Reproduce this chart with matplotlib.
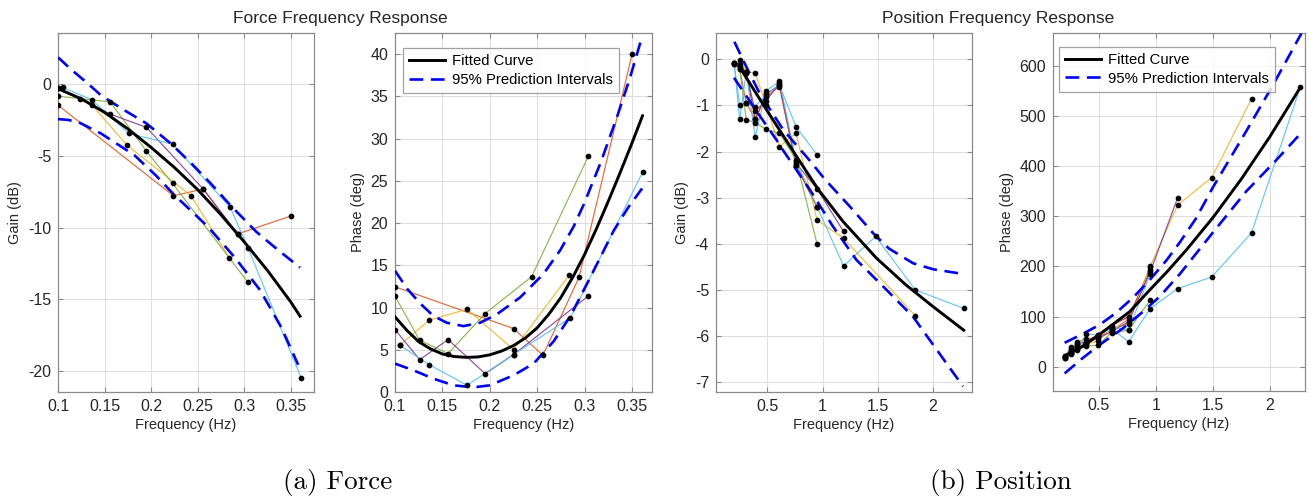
import matplotlib
matplotlib.use('Agg')
import matplotlib.pyplot as plt
from matplotlib.lines import Line2D

plt.rcParams['font.family'] = ['Liberation Sans', 'DejaVu Sans']
plt.rcParams['axes.unicode_minus'] = False

# ---------------- colours (MATLAB default order) ----------------
C_ORANGE = '#D95319'
C_YELLOW = '#EDB120'
C_PURPLE = '#7E2F8E'
C_GREEN = '#77AC30'
C_LBLUE = '#4DBEEE'
C_RED = '#A2142F'

# ---------------- Force gain (dB) ----------------
FG_ORANGE = [(0.1, -1.45), (0.224, -7.78), (0.256, -7.31), (0.293, -10.45), (0.35, -9.2)]
FG_YELLOW = [(0.1, -0.28), (0.136, -1.40), (0.174, -4.24), (0.243, -7.78), (0.284, -12.11)]
FG_GREEN = [(0.1, -0.82), (0.156, -1.21), (0.195, -4.66), (0.223, -6.92), (0.304, -13.83)]
FG_PURPLE = [(0.1, -0.28), (0.124, -0.98), (0.156, -2.07), (0.195, -3.0), (0.256, -7.31), (0.293, -10.45)]
FG_LBLUE = [(0.105, -0.21), (0.136, -1.05), (0.176, -3.42), (0.223, -4.17), (0.285, -8.59),
            (0.304, -11.41), (0.361, -20.49)]
FG_FIT_F = [0.102, 0.125, 0.15, 0.175, 0.2, 0.225, 0.25, 0.275, 0.3, 0.325, 0.35, 0.36]
FG_FIT_V = [-0.35, -1.0, -1.95, -3.1, -4.4, -5.8, -7.35, -9.1, -11.0, -13.0, -15.2, -16.2]
FG_UP_F = [0.1, 0.115, 0.132, 0.146, 0.17, 0.195, 0.221, 0.243, 0.264, 0.285, 0.313, 0.335, 0.36]
FG_UP_V = [1.9, 1.0, 0.07, -0.75, -1.75, -2.72, -4.12, -5.5, -6.92, -8.43, -10.3, -11.5, -12.8]
FG_LO_F = [0.1, 0.11, 0.121, 0.146, 0.182, 0.205, 0.225, 0.261, 0.29, 0.317, 0.34, 0.358]
FG_LO_V = [-2.42, -2.47, -2.6, -3.42, -4.94, -6.35, -7.73, -9.94, -12.1, -14.37, -17.0, -19.6]
FG_XTICKS = [0.1, 0.15, 0.2, 0.25, 0.3, 0.35]
FG_XTICKLABELS = ['0.1', '0.15', '0.2', '0.25', '0.3', '0.35']
FG_YTICKS = [-20, -15, -10, -5, 0]
FG_YTICKLABELS = ['-20', '-15', '-10', '-5', '0']

# ---------------- Force phase (deg) ----------------
FP_ORANGE = [(0.1, 12.45), (0.225, 7.51), (0.256, 4.35), (0.294, 13.56), (0.35, 40.0)]
FP_YELLOW = [(0.105, 5.53), (0.136, 8.50), (0.176, 9.80), (0.225, 5.02), (0.284, 13.9)]
FP_GREEN = [(0.1, 11.34), (0.126, 6.13), (0.156, 4.55), (0.195, 9.29), (0.244, 13.64), (0.304, 27.94)]
FP_PURPLE = [(0.1, 7.39), (0.126, 3.83), (0.156, 6.21), (0.195, 2.17), (0.225, 4.43), (0.304, 11.38)]
FP_LBLUE = [(0.105, 5.53), (0.136, 3.24), (0.176, 0.79), (0.225, 4.43), (0.285, 8.8), (0.361, 26.0)]
FP_FIT_F = [0.1, 0.1125, 0.125, 0.1375, 0.15, 0.1625, 0.175, 0.1875, 0.2, 0.2125, 0.225, 0.2375,
            0.25, 0.2625, 0.275, 0.2875, 0.3, 0.3125, 0.325, 0.3375, 0.35, 0.361]
FP_FIT_V = [8.9, 7.3, 5.95, 5.1, 4.5, 4.2, 4.1, 4.15, 4.4, 4.85, 5.5, 6.4,
            7.6, 9.25, 11.2, 13.6, 16.3, 19.35, 22.6, 26.0, 29.5, 32.7]
FP_UP_F = [0.1, 0.113, 0.1264, 0.1405, 0.1546, 0.1722, 0.1898, 0.2074, 0.232, 0.2567, 0.2743,
           0.2884, 0.299, 0.317, 0.3342, 0.3475, 0.3606]
FP_UP_V = [14.35, 12.2, 10.5, 9.0, 8.2, 7.8, 8.2, 9.2, 11.2, 14.0, 16.8, 19.6, 22.2, 27.2, 32.6, 37.1, 42.1]
FP_LO_F = [0.1, 0.1194, 0.1405, 0.1616, 0.1827, 0.2, 0.225, 0.2461, 0.2673, 0.285, 0.306, 0.3306,
           0.3456, 0.3606]
FP_LO_V = [3.36, 2.57, 1.58, 0.79, 0.55, 0.79, 1.98, 3.36, 6.0, 9.0, 13.6, 19.1, 21.8, 24.1]
FP_XTICKS = FG_XTICKS
FP_XTICKLABELS = FG_XTICKLABELS
FP_YTICKS = [0, 5, 10, 15, 20, 25, 30, 35, 40]
FP_YTICKLABELS = ['0', '5', '10', '15', '20', '25', '30', '35', '40']

# ---------------- Position gain (dB) ----------------
PG_LBLUE = [(0.2, -0.07), (0.25, -1.3), (0.31, -0.27), (0.39, -1.69), (0.49, -0.68), (0.61, -0.48),
            (0.76, -2.2), (0.95, -3.19), (1.19, -4.48), (1.48, -3.84), (1.84, -5.0), (2.28, -5.4)]
PG_BLUE2 = [(0.2, -0.1), (0.25, -0.99), (0.31, -0.95), (0.39, -1.03), (0.49, -0.75), (0.61, -0.56),
            (0.76, -1.46), (0.95, -2.07)]
PG_ORANGE = [(0.2, -0.07), (0.25, -0.22), (0.31, -0.95), (0.39, -1.3), (0.49, -0.81), (0.61, -0.59),
             (0.76, -2.29), (0.95, -3.2)]
PG_YELLOW = [(0.25, -0.01), (0.31, -0.27), (0.39, -0.29), (0.49, -1.0), (0.61, -1.89), (0.76, -1.6),
             (0.95, -3.48), (1.19, -3.88), (1.84, -5.56)]
PG_GREEN = [(0.2, -0.1), (0.25, -0.2), (0.31, -1.31), (0.39, -1.37), (0.49, -1.52), (0.61, -1.6),
            (0.76, -2.18), (0.95, -4.0)]
PG_PURPLE = [(0.2, -0.07), (0.25, -0.17), (0.31, -0.3), (0.39, -1.12), (0.49, -0.9), (0.61, -0.52),
             (0.76, -2.25), (0.95, -2.81), (1.19, -3.73)]
PG_RED = [(0.25, -0.1), (0.31, -0.3), (0.39, -1.3), (0.49, -0.75), (0.61, -0.56), (0.76, -2.3), (0.95, -3.2)]
PG_FIT_F = [0.247, 0.35, 0.5, 0.75, 0.961, 1.187, 1.488, 1.75, 2.0, 2.277]
PG_FIT_V = [-0.16, -0.55, -1.12, -2.05, -2.82, -3.52, -4.31, -4.88, -5.36, -5.87]
PG_UP_F = [0.202, 0.328, 0.434, 0.645, 0.886, 1.02, 1.247, 1.458, 1.6, 1.819, 2.0, 2.241]
PG_UP_V = [0.38, -0.25, -0.75, -1.53, -2.2, -2.6, -3.19, -3.77, -4.1, -4.42, -4.55, -4.64]
PG_LO_F = [0.199, 0.404, 0.584, 0.645, 0.886, 1.096, 1.307, 1.518, 1.819, 2.271]
PG_LO_V = [-0.40, -1.13, -1.75, -1.98, -2.83, -3.63, -4.35, -4.85, -5.58, -7.09]
PG_XTICKS = [0.5, 1, 1.5, 2]
PG_XTICKLABELS = ['0.5', '1', '1.5', '2']
PG_YTICKS = [-7, -6, -5, -4, -3, -2, -1, 0]
PG_YTICKLABELS = ['-7', '-6', '-5', '-4', '-3', '-2', '-1', '0']

# ---------------- Position phase (deg) ----------------
PP_ORANGE = [(0.2, 20), (0.25, 28), (0.31, 50), (0.39, 55), (0.49, 60), (0.61, 72), (0.76, 95), (0.95, 199)]
PP_YELLOW = [(0.2, 20), (0.25, 25), (0.31, 40), (0.39, 45), (0.49, 52), (0.61, 76), (0.76, 86), (0.95, 200),
             (1.19, 322), (1.49, 377), (1.84, 534)]
PP_PURPLE = [(0.2, 22), (0.25, 35), (0.31, 38), (0.39, 48), (0.49, 57), (0.61, 70), (0.76, 90), (0.95, 189),
             (1.19, 336)]
PP_GREEN = [(0.2, 18), (0.25, 27), (0.31, 34), (0.39, 42), (0.49, 43), (0.61, 68), (0.76, 73), (0.95, 133)]
PP_LBLUE = [(0.2, 18), (0.25, 40), (0.31, 36), (0.39, 66), (0.49, 63), (0.61, 76), (0.76, 50), (0.95, 116),
            (1.19, 156), (1.49, 179), (1.84, 267), (2.27, 558)]
PP_BLUE2 = [(0.25, 30), (0.31, 45), (0.39, 47), (0.49, 62), (0.61, 80), (0.76, 73), (0.95, 185)]
PP_RED = [(0.2, 21), (0.25, 32), (0.31, 46), (0.39, 50), (0.49, 64), (0.61, 82), (0.76, 100), (0.95, 192)]
PP_FIT_F = [0.2, 0.35, 0.5, 0.77, 0.945, 1.1, 1.268, 1.5, 1.75, 2.0, 2.27]
PP_FIT_V = [22, 40, 64, 110, 153, 190, 233, 297, 374, 458, 557]
PP_UP_F = [0.198, 0.359, 0.506, 0.652, 0.799, 0.945, 1.092, 1.21, 1.35, 1.502, 1.795, 2.03, 2.278]
PP_UP_V = [48, 66, 84, 108, 138, 173, 212, 248, 295, 358, 470, 562, 664]
PP_LO_F = [0.198, 0.359, 0.506, 0.711, 0.887, 1.033, 1.21, 1.502, 1.795, 2.05, 2.264]
PP_LO_V = [-13, 18, 44, 77, 110, 140, 185, 268, 350, 410, 463]
PP_XTICKS = PG_XTICKS
PP_XTICKLABELS = PG_XTICKLABELS
PP_YTICKS = [0, 100, 200, 300, 400, 500, 600]
PP_YTICKLABELS = ['0', '100', '200', '300', '400', '500', '600']

TITLES = ['Force Frequency Response', 'Position Frequency Response']
CAPTIONS = ['(a) Force', '(b) Position']
LEGEND_LABELS = ['Fitted Curve', '95% Prediction Intervals']

# ---------------- figure ----------------
W, H = 1309, 497
fig = plt.figure(figsize=(W / 100, H / 100), dpi=100)

SPINE = '#8a8a8a'
TICKC = '#262626'
DASH = (0, (5.2, 2.9))


def add_ax(l, t, r, b):
    return fig.add_axes([l / W, 1 - b / H, (r - l) / W, (b - t) / H])


def style(ax, xlim, ylim, xt, xtl, yt, ytl, ylabel):
    ax.set_xlim(*xlim)
    ax.set_ylim(*ylim)
    ax.set_xticks(xt)
    ax.set_xticklabels(xtl)
    ax.set_yticks(yt)
    ax.set_yticklabels(ytl)
    ax.grid(True, color='#dcdcdc', lw=0.7)
    ax.set_axisbelow(True)
    for s in ax.spines.values():
        s.set_color(SPINE)
        s.set_linewidth(0.9)
    ax.tick_params(direction='in', length=3.5, width=0.8, color=SPINE, labelcolor=TICKC,
                   labelsize=11.5, top=True, right=True, pad=5)
    ax.set_xlabel('Frequency (Hz)', fontsize=10.5, color=TICKC, labelpad=3)
    ax.set_ylabel(ylabel, fontsize=10.5, color=TICKC, labelpad=4)


def draw(ax, series, fit_f, fit_v, up_f, up_v, lo_f, lo_v):
    for pts, col in series:
        ax.plot([p[0] for p in pts], [p[1] for p in pts], color=col, lw=0.85, alpha=0.85, zorder=2)
    ax.plot(up_f, up_v, color='#0000FF', lw=1.9, ls=DASH, zorder=3)
    ax.plot(lo_f, lo_v, color='#0000FF', lw=1.9, ls=DASH, zorder=3)
    ax.plot(fit_f, fit_v, color='black', lw=2.1, zorder=4, solid_joinstyle='round')
    for pts, col in series:
        ax.plot([p[0] for p in pts], [p[1] for p in pts], 'o', color='black', ms=3.1, zorder=5)


def legend(ax, anchor):
    handles = [Line2D([], [], color='black', lw=2.1),
               Line2D([], [], color='#0000FF', lw=1.9, ls=DASH)]
    leg = ax.legend(handles, LEGEND_LABELS, loc='upper left', bbox_to_anchor=anchor,
                    borderaxespad=0, fontsize=10.7, frameon=True, fancybox=False,
                    edgecolor=SPINE, handlelength=2.4, handletextpad=0.45,
                    labelspacing=0.3, borderpad=0.42)
    leg.get_frame().set_linewidth(0.9)
    leg.set_zorder(10)


ax1 = add_ax(58, 33, 314, 392)
draw(ax1, [(FG_ORANGE, C_ORANGE), (FG_YELLOW, C_YELLOW), (FG_GREEN, C_GREEN),
           (FG_PURPLE, C_PURPLE), (FG_LBLUE, C_LBLUE)],
     FG_FIT_F, FG_FIT_V, FG_UP_F, FG_UP_V, FG_LO_F, FG_LO_V)
style(ax1, (0.1, 0.375), (-21.5, 3.6), FG_XTICKS, FG_XTICKLABELS, FG_YTICKS, FG_YTICKLABELS, 'Gain (dB)')

ax2 = add_ax(395, 33, 652, 392)
draw(ax2, [(FP_ORANGE, C_ORANGE), (FP_YELLOW, C_YELLOW), (FP_GREEN, C_GREEN),
           (FP_PURPLE, C_PURPLE), (FP_LBLUE, C_LBLUE)],
     FP_FIT_F, FP_FIT_V, FP_UP_F, FP_UP_V, FP_LO_F, FP_LO_V)
style(ax2, (0.1, 0.371), (0, 42.5), FP_XTICKS, FP_XTICKLABELS, FP_YTICKS, FP_YTICKLABELS, 'Phase (deg)')
legend(ax2, (0.031, 0.958))

ax3 = add_ax(716, 33, 972, 392)
draw(ax3, [(PG_RED, C_RED), (PG_ORANGE, C_ORANGE), (PG_YELLOW, C_YELLOW), (PG_GREEN, C_GREEN),
           (PG_PURPLE, C_PURPLE), (PG_BLUE2, C_LBLUE), (PG_LBLUE, C_LBLUE)],
     PG_FIT_F, PG_FIT_V, PG_UP_F, PG_UP_V, PG_LO_F, PG_LO_V)
style(ax3, (0.036, 2.352), (-7.21, 0.57), PG_XTICKS, PG_XTICKLABELS, PG_YTICKS, PG_YTICKLABELS, 'Gain (dB)')

ax4 = add_ax(1053, 33, 1305, 391)
draw(ax4, [(PP_RED, C_RED), (PP_ORANGE, C_ORANGE), (PP_GREEN, C_GREEN), (PP_YELLOW, C_YELLOW),
           (PP_PURPLE, C_PURPLE), (PP_BLUE2, C_LBLUE), (PP_LBLUE, C_LBLUE)],
     PP_FIT_F, PP_FIT_V, PP_UP_F, PP_UP_V, PP_LO_F, PP_LO_V)
style(ax4, (0.096, 2.31), (-48, 665), PP_XTICKS, PP_XTICKLABELS, PP_YTICKS, PP_YTICKLABELS, 'Phase (deg)')
legend(ax4, (0.024, 0.961))

fig.text(340 / W, 1 - 18 / H, TITLES[0], ha='center', va='center', fontsize=12.5, color=TICKC)
fig.text(998 / W, 1 - 18 / H, TITLES[1], ha='center', va='center', fontsize=12.5, color=TICKC)
fig.text(338 / W, 1 - 482 / H, CAPTIONS[0], ha='center', va='center', fontsize=19.5, family='cmr10')
fig.text(1001 / W, 1 - 482 / H, CAPTIONS[1], ha='center', va='center', fontsize=19.5, family='cmr10')

fig.savefig('out.png', dpi=100, facecolor='white')
